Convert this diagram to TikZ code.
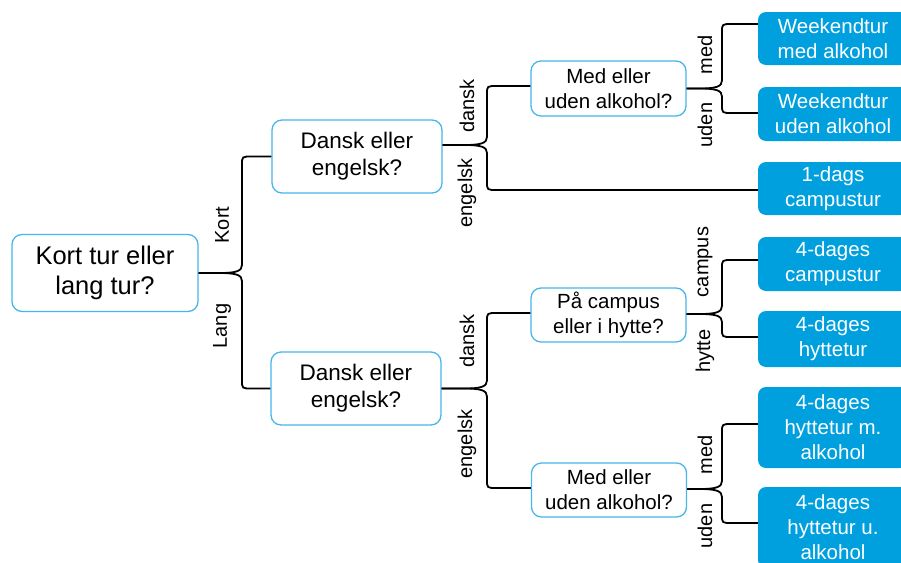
\documentclass[tikz,border=0pt]{standalone}
\usepackage{fontspec}
\setmainfont{Liberation Sans}
\usetikzlibrary{calc}
\definecolor{fillblue}{RGB}{0,160,223}
\definecolor{lineblue}{RGB}{70,182,235}
\newcommand\brk[3]{\draw[conn] let \p1=(#1), \p2=(#2), \n1={sign(\y2-\y1)} in
  (\p1) -- ({#3pt-22pt},\y1) .. controls ({#3pt-6pt},\y1) and ({#3pt},{\y1+\n1*2pt}) .. ({#3pt},{\y1+\n1*8pt})
  -- ({#3pt},{\y2-\n1*8pt}) .. controls ({#3pt},\y2) and ({#3pt},\y2) .. ({#3pt+10pt},\y2) -- (\p2);}
\tikzset{
 q/.style={draw=lineblue, line width=1.3pt, rounded corners=10pt, fill=white, align=center, inner sep=0pt, font=\fontsize{22.5}{27}\selectfont},
 ans/.style={fill=fillblue, rounded corners=8pt, text=white, align=center, inner sep=0pt, minimum width=150pt, font=\fontsize{20.5}{25}\selectfont},
 lbl/.style={rotate=90, inner sep=0pt, font=\fontsize{20}{24}\selectfont},
 conn/.style={line width=1.8pt, black}
}
\begin{document}
\begin{tikzpicture}[x=1pt,y=-1pt]
\useasboundingbox (0,0) rectangle (901,562);
% question nodes
\node[q, minimum width=186pt, minimum height=77pt, font=\fontsize{25.5}{30}\selectfont] (root) at (105,273) {Kort tur eller\\lang tur?};
\node[q, minimum width=170pt, minimum height=73pt] (d1) at (357,156.5) {Dansk eller\\engelsk?};
\node[q, minimum width=170pt, minimum height=73pt] (d2) at (356,388.5) {Dansk eller\\engelsk?};
\node[q, minimum width=155pt, minimum height=55pt, font=\fontsize{20.5}{25}\selectfont] (m1) at (608.5,88.5) {Med eller\\uden alkohol?};
\node[q, minimum width=155pt, minimum height=54pt, font=\fontsize{20.5}{25}\selectfont] (pc) at (608.5,315) {På campus\\eller i hytte?};
\node[q, minimum width=155pt, minimum height=54pt, font=\fontsize{20.5}{25}\selectfont] (m2) at (609,490) {Med eller\\uden alkohol?};
% answers
\node[ans, minimum height=53pt] (w1) at (833,38.5) {Weekendtur\\med alkohol};
\node[ans, minimum height=54pt] (w2) at (833,114) {Weekendtur\\uden alkohol};
\node[ans, minimum height=53pt] (dag1) at (833,188.5) {1-dags\\campustur};
\node[ans, minimum height=54pt] (c4) at (833,264) {4-dages\\campustur};
\node[ans, minimum height=56pt] (h4) at (833,339) {4-dages\\hyttetur};
\node[ans, minimum height=81pt] (hm) at (833,427.5) {4-dages\\hyttetur m.\\alkohol};
\node[ans, minimum height=81pt] (hu) at (833,527.5) {4-dages\\hyttetur u.\\alkohol};
% connectors
\brk{root.east}{d1.west}{242}
\brk{root.east}{d2.west}{242}
\brk{$(d1.east)+(0,-11.5)$}{$(m1.west)+(0,-2.5)$}{487}
\brk{$(d1.east)+(0,-11.5)$}{$(dag1.west)+(0,1.5)$}{487}
\brk{m1.east}{$(w1.west)+(0,-14.5)$}{722}
\brk{m1.east}{$(w2.west)+(0,-1)$}{722}
\brk{d2.east}{$(pc.west)+(0,-2)$}{487}
\brk{d2.east}{$(m2.west)+(0,-2)$}{487}
\brk{$(pc.east)+(0,-1)$}{$(c4.west)+(0,-4)$}{722}
\brk{$(pc.east)+(0,-1)$}{$(h4.west)+(0,-2)$}{722}
\brk{$(m2.east)+(0,-1)$}{$(hm.west)+(0,-3.5)$}{722}
\brk{$(m2.east)+(0,-1)$}{$(hu.west)+(0,-4.5)$}{722}
% labels
\node[lbl] (lk) at (222,225) {Kort};
\node[lbl] (ll) at (222,326) {Lang};
\node[lbl] (ld1) at (467,106) {dansk};
\node[lbl] (le1) at (467,193) {engelsk};
\node[lbl] (lm1) at (705,55) {med};
\node[lbl] (lu1) at (705,125) {uden};
\node[lbl] (ld2) at (467,341) {dansk};
\node[lbl] (le2) at (467,444) {engelsk};
\node[lbl] (lc) at (705,262) {campus};
\node[lbl] (lh) at (705,351) {hytte};
\node[lbl] (lm2) at (705,455) {med};
\node[lbl] (lu2) at (705,526) {uden};
\end{tikzpicture}
\end{document}
